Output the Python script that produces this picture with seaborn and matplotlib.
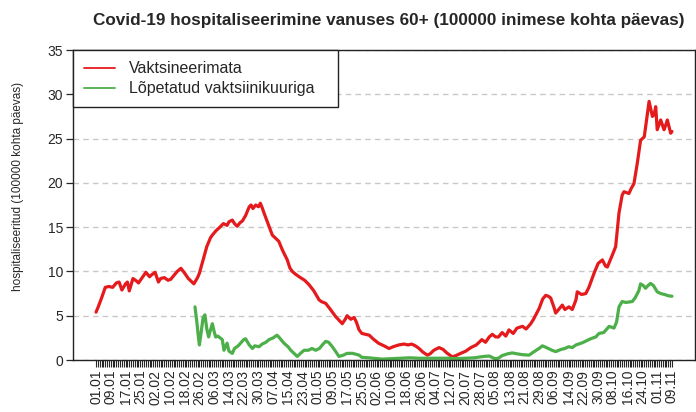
"""Covid-19 hospitaliseerimine vanuses 60+ (uuesti joonistatud seaborniga)."""
import numpy as np
import pandas as pd
import matplotlib
matplotlib.use("Agg")
import matplotlib.pyplot as plt
import seaborn as sns

START = pd.Timestamp("2021-01-01")
N_DAYS = 313  # 01.01 .. 09.11

# päev alates 01.01 ja väärtus (loetud pildilt)
RED_DAY = [0, 1, 3, 5, 7, 9, 11, 12.5, 14, 16, 17, 18, 20, 22, 23, 25, 27, 29, 30, 32,
           33.8, 35, 37, 39, 40.4, 42, 44, 46, 48, 50, 52, 53, 55, 56, 58, 60, 62, 63,
           65, 66.6, 68, 69, 71, 72, 73.8, 75, 76.5, 78, 79.3, 81, 83, 84, 85, 86.5, 88,
           89, 90, 91, 93, 95.5, 97, 99, 101, 103.6, 105, 106.3, 108, 110, 113, 115.4,
           118, 120.8, 122, 124.4, 127, 129.8, 132, 133.4, 135, 136, 138, 139.8, 141,
           142.5, 144, 146, 148, 150, 153, 156, 158.7, 161, 164, 166.8, 169, 171, 173,
           175, 177, 179.5, 181, 183, 185.8, 188, 190, 193, 195, 197, 200.3, 203, 206,
           209, 211, 213, 214.7, 216.5, 218, 220, 222, 223.7, 226, 228, 231, 233, 235.5,
           237, 240, 242, 243.6, 245, 246.3, 248, 249, 251, 252.6, 254, 256.2, 258, 260,
           260.7, 263, 265.3, 267, 269.8, 272, 274.3, 276, 277, 279.7, 281.5, 283.3, 285,
           286, 288.7, 290, 291.4, 293.2, 295, 297, 298.5, 299.6, 301.4, 302.3, 303.2,
           304, 305.9, 307.7, 308.6, 309.5, 311.3, 312]
RED_VAL = [5.4, 5.9, 7.0, 8.2, 8.3, 8.2, 8.7, 8.8, 7.9, 8.6, 8.8, 7.8, 9.2, 8.9, 8.7, 9.3,
           9.9, 9.4, 9.6, 9.9, 8.8, 9.2, 9.3, 9.0, 9.1, 9.5, 10.0, 10.35, 9.8, 9.2, 8.8,
           8.6, 9.3, 9.8, 11.3, 12.8, 13.8, 14.1, 14.6, 14.9, 15.2, 15.4, 15.2, 15.6, 15.8,
           15.4, 15.1, 15.5, 15.7, 16.3, 17.3, 17.5, 17.1, 17.5, 17.3, 17.7, 17.2, 16.6,
           15.5, 14.1, 13.8, 13.4, 12.4, 11.3, 10.4, 10.0, 9.7, 9.4, 9.0, 8.5, 7.8, 6.8,
           6.6, 6.4, 5.7, 4.9, 4.4, 4.1, 4.6, 5.0, 4.6, 4.8, 4.3, 3.4, 3.0, 2.9, 2.8, 2.4,
           1.9, 1.6, 1.3, 1.5, 1.7, 1.8, 1.7, 1.8, 1.6, 1.3, 0.9, 0.55, 0.7, 1.1, 1.4, 1.2,
           0.8, 0.35, 0.5, 0.7, 1.0, 1.4, 1.7, 2.3, 2.0, 2.6, 2.9, 2.6, 2.6, 3.1, 2.7, 3.4,
           3.0, 3.6, 3.8, 3.5, 4.1, 4.6, 5.8, 6.9, 7.3, 7.2, 7.0, 6.0, 5.3, 5.8, 6.2, 5.7,
           6.0, 5.7, 6.8, 7.7, 7.4, 7.5, 8.2, 9.8, 10.9, 11.3, 10.6, 10.5, 11.85, 12.8,
           16.6, 18.6, 19.0, 18.8, 19.4, 19.9, 22.2, 24.8, 25.2, 27.5, 29.2, 27.5, 27.7,
           28.6, 26.0, 27.1, 26.0, 26.5, 27.1, 25.6, 25.8]

GREEN_DAY = [53.6, 54.5, 55.5, 56, 57, 58, 59, 60, 61, 62, 63, 64, 64.8, 66, 68.4, 69.3,
             71, 72, 73.8, 75, 77, 80, 81, 83, 84.7, 86, 88.3, 90, 92, 93.7, 96, 98, 99,
             101.8, 104, 105.5, 107, 109, 111, 112.7, 115, 117, 119, 121, 123, 124.4, 126,
             128, 130, 131.6, 134, 136, 139, 142.5, 144, 148, 150, 155, 160, 165, 170,
             175, 180, 185, 191, 195, 200, 205, 210, 213, 216, 218, 220, 223, 225.5, 228,
             231, 234.6, 237, 240, 241.8, 244, 247, 249, 252, 254, 256, 258, 260, 263.5,
             266, 268, 270.7, 272.5, 275, 278, 280.6, 282, 283.3, 285, 287, 290.5, 292,
             294, 295, 296.5, 297.7, 299, 300.4, 302, 304, 305.9, 308, 310, 312]
GREEN_VAL = [6.0, 4.5, 2.5, 1.7, 3.2, 4.8, 5.1, 3.5, 2.6, 3.4, 4.1, 3.2, 2.6, 2.7, 2.3,
             1.1, 1.9, 1.0, 0.75, 1.3, 1.6, 2.3, 2.4, 1.7, 1.3, 1.6, 1.5, 1.8, 2.0, 2.3,
             2.5, 2.8, 2.6, 1.9, 1.5, 1.1, 0.8, 0.4, 0.8, 1.1, 1.1, 1.3, 1.1, 1.3, 1.8,
             2.1, 2.0, 1.5, 0.9, 0.4, 0.55, 0.75, 0.75, 0.55, 0.3, 0.25, 0.2, 0.1, 0.15,
             0.2, 0.25, 0.2, 0.2, 0.2, 0.2, 0.15, 0.2, 0.25, 0.4, 0.45, 0.15, 0.2, 0.5,
             0.7, 0.8, 0.7, 0.6, 0.55, 0.9, 1.3, 1.6, 1.4, 1.1, 0.95, 1.2, 1.3, 1.5, 1.4,
             1.7, 1.95, 2.2, 2.4, 2.6, 3.0, 3.1, 3.8, 3.6, 4.3, 6.0, 6.6, 6.5, 6.6, 7.0,
             7.8, 8.6, 8.4, 8.1, 8.4, 8.65, 8.4, 7.7, 7.5, 7.4, 7.25, 7.2]

LABELS = ["Vaktsineerimata", "Lõpetatud vaktsiinikuuriga"]
COLORS = {"Vaktsineerimata": "#E41A1C", "Lõpetatud vaktsiinikuuriga": "#4DAF4A"}

TITLE = "Covid-19 hospitaliseerimine vanuses 60+ (100000 inimese kohta päevas)"
YLABEL = "hospitaliseeritud (100000 kohta päevas)"


def main():
    df = pd.concat([
        pd.DataFrame({"day": RED_DAY, "value": RED_VAL, "grupp": LABELS[0]}),
        pd.DataFrame({"day": GREEN_DAY, "value": GREEN_VAL, "grupp": LABELS[1]}),
    ])

    sns.set_theme(style="white")
    plt.rcParams["font.family"] = ["Liberation Sans", "DejaVu Sans"]

    fig = plt.figure(figsize=(6.96, 4.12), dpi=100)
    ax = fig.add_axes([73 / 696, 1 - 360 / 412, 622 / 696, 310 / 412])

    sns.lineplot(data=df, x="day", y="value", hue="grupp", hue_order=LABELS,
                 palette=COLORS, estimator=None, linewidth=2.3, ax=ax)

    ax.set_xlim(-0.04 * (N_DAYS - 1), 1.04 * (N_DAYS - 1))
    ax.set_ylim(0, 35)
    ax.set_xlabel("")
    ax.set_ylabel("")

    # horisontaalne abijoonestik
    ax.yaxis.grid(True, linestyle=(0, (4, 3)), color="#c8c8c8", linewidth=1)
    ax.set_axisbelow(True)

    major = np.arange(0, N_DAYS, 8)
    ax.set_xticks(major)
    ax.set_xticks(np.arange(N_DAYS), minor=True)
    ax.set_xticklabels([(START + pd.Timedelta(days=int(d))).strftime("%d.%m") for d in major],
                       rotation=90, fontsize=10)
    ax.set_yticks(np.arange(0, 36, 5))
    ax.tick_params(axis="y", labelsize=10, length=5, width=0.9, left=True, pad=2)
    ax.tick_params(axis="x", which="both", length=5, width=0.8, bottom=True, pad=2)

    for s in ax.spines.values():
        s.set_color("#222222")
        s.set_linewidth(1)

    handles, labels = ax.get_legend_handles_labels()
    leg = ax.legend(handles, labels, loc="upper left",
                    bbox_to_anchor=(0, 1, 265 / 622, 0), mode="expand",
                    borderaxespad=0, fancybox=False, framealpha=1, edgecolor="#222222",
                    fontsize=11.5, handlelength=1.9, handletextpad=0.9,
                    labelspacing=0.32, borderpad=0.7)
    leg.get_frame().set_linewidth(1)
    for line in leg.get_lines():
        line.set_linewidth(1.3)

    fig.text(389 / 696, 1 - 20 / 412, TITLE, ha="center", va="center",
             fontsize=12.3, fontweight="bold")
    fig.text(18 / 696, 1 - 186 / 412, YLABEL, ha="center", va="center",
             rotation=90, fontsize=8.5)

    fig.savefig("out.png", dpi=100)
    plt.close(fig)


if __name__ == "__main__":
    main()
